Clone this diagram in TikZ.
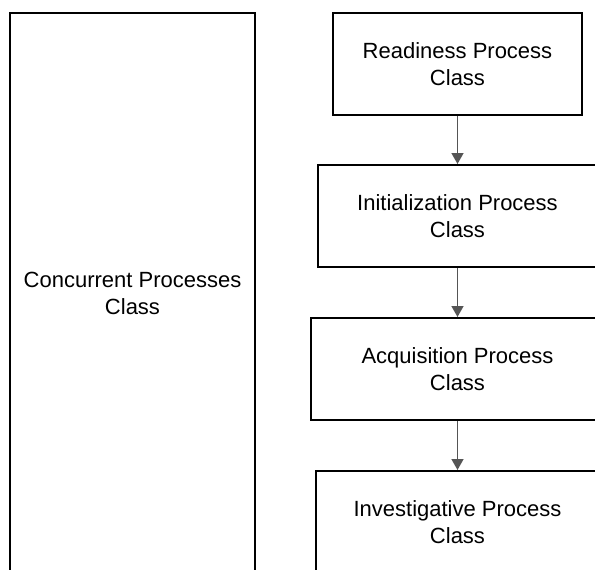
\documentclass[tikz,border=0pt]{standalone}
\usepackage{fontspec}
\setmainfont{Liberation Sans}
\usetikzlibrary{arrows.meta}
\definecolor{arrowgray}{RGB}{85,85,85}
\begin{document}
\begin{tikzpicture}[x=1pt,y=-1pt,
  box/.style={draw=black,line width=2pt,fill=white,align=center,inner sep=0pt,
    minimum height=102pt,font=\fontsize{22}{27}\selectfont},
  link/.style={draw=arrowgray,line width=1.5pt,-{Triangle[width=12pt,length=11pt]}}]
\useasboundingbox (0,0) rectangle (595,570);
\clip (0,0) rectangle (595,570);
\node[box,minimum width=245pt,minimum height=560pt] (conc) at (132.5,293) {Concurrent Processes\\Class};
\node[box,minimum width=249pt] (ready) at (457.5,64) {Readiness Process\\Class};
\node[box,minimum width=279pt] (init) at (457.5,216) {Initialization Process\\Class};
\node[box,minimum width=293pt] (acq) at (457.5,369) {Acquisition Process\\Class};
\node[box,minimum width=283pt] (inv) at (457.5,522) {Investigative Process\\Class};
\draw[link] (ready.south) -- (init.north);
\draw[link] (init.south) -- (acq.north);
\draw[link] (acq.south) -- (inv.north);
\end{tikzpicture}
\end{document}
